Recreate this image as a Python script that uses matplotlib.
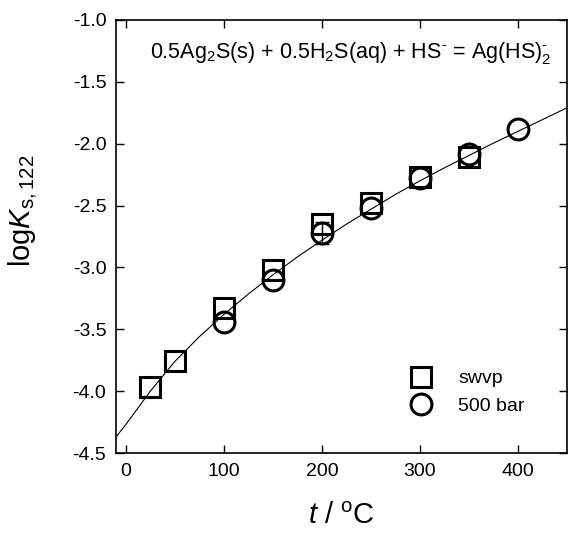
# Ag2S solubility constant vs temperature: experimental points and fitted curve.
import numpy as np
import matplotlib
matplotlib.use("Agg")
import matplotlib.pyplot as plt

# Font setup: Arial-like sans with matching mathtext.
plt.rcParams["font.family"] = "Liberation Sans"
plt.rcParams["mathtext.fontset"] = "custom"
plt.rcParams["mathtext.rm"] = "Liberation Sans"
plt.rcParams["mathtext.it"] = "Liberation Sans:italic"
plt.rcParams["axes.unicode_minus"] = False

# Saturated water vapour pressure data.
t_swvp = [25, 50, 100, 150, 200, 250, 300, 350]
logk_swvp = [-3.97, -3.76, -3.33, -3.02, -2.65, -2.48, -2.27, -2.11]

# 500 bar data.
t_500 = [100, 150, 200, 250, 300, 350, 400]
logk_500 = [-3.44, -3.10, -2.72, -2.52, -2.28, -2.08, -1.88]

# Uncertainty shown for the 200 C point at 500 bar.
t_err = [200]
logk_err = [-2.72]
err = [0.09]

# Fitted curve values.
t_fit = [-10, 0, 25, 50, 75, 100, 125, 150, 175, 200, 225, 250, 275,
         300, 325, 350, 375, 400, 425, 450]
logk_fit = [-4.37, -4.27, -4.00, -3.76, -3.56, -3.38, -3.215, -3.06, -2.915,
            -2.78, -2.65, -2.53, -2.41, -2.30, -2.195, -2.095, -1.995, -1.90,
            -1.805, -1.71]

fig = plt.figure(figsize=(5.70, 5.33), dpi=100)
ax = fig.add_axes([0.2035, 0.150, 0.7912, 0.8125])

# Fitted curve.
ax.plot(t_fit, logk_fit, color="black", lw=0.8, zorder=1)

# Experimental points.
ax.errorbar(t_err, logk_err, yerr=err, fmt="none", ecolor="black",
            elinewidth=1.0, capsize=5, capthick=1.0, zorder=2)
ax.plot(t_swvp, logk_swvp, ls="none", marker="s", ms=14, mfc="none",
        mec="black", mew=2.2, label="swvp", zorder=3)
ax.plot(t_500, logk_500, ls="none", marker="o", ms=15, mfc="none",
        mec="black", mew=2.2, label="500 bar", zorder=3)

ax.set_xlim(-10, 450)
ax.set_ylim(-4.5, -1.0)
ax.set_xticks([0, 100, 200, 300, 400])
ax.set_yticks(np.arange(-4.5, -0.99, 0.5))
ax.set_yticklabels([f"{v:.1f}" for v in np.arange(-4.5, -0.99, 0.5)])
ax.tick_params(direction="in", length=6, width=1.0, top=True, right=True,
               labelsize=14, pad=7)
for s in ax.spines.values():
    s.set_linewidth(1.2)

ax.set_xlabel("$t$ / $^{\\mathrm{o}}$C", fontsize=21)
ax.xaxis.set_label_coords(0.5, -0.112)
ax.xaxis.label.set_va("top")
ax.set_ylabel("log$K_{\\mathrm{s,122}}$", fontsize=21)
ax.yaxis.set_label_coords(-0.17, 0.56)

# Reaction equation.
ax.text(0.075, 0.924,
        "0.5Ag$_2$S(s) + 0.5H$_2$S(aq) + HS$^{\\text{-}}$ = Ag(HS)$_2^{\\text{-}}$",
        transform=ax.transAxes, fontsize=15.5, ha="left", va="center")

ax.legend(loc="lower right", bbox_to_anchor=(0.945, 0.048), frameon=False,
          fontsize=14, handletextpad=0.9, labelspacing=0.5, markerscale=1.0)

fig.savefig("out.png", dpi=100)
